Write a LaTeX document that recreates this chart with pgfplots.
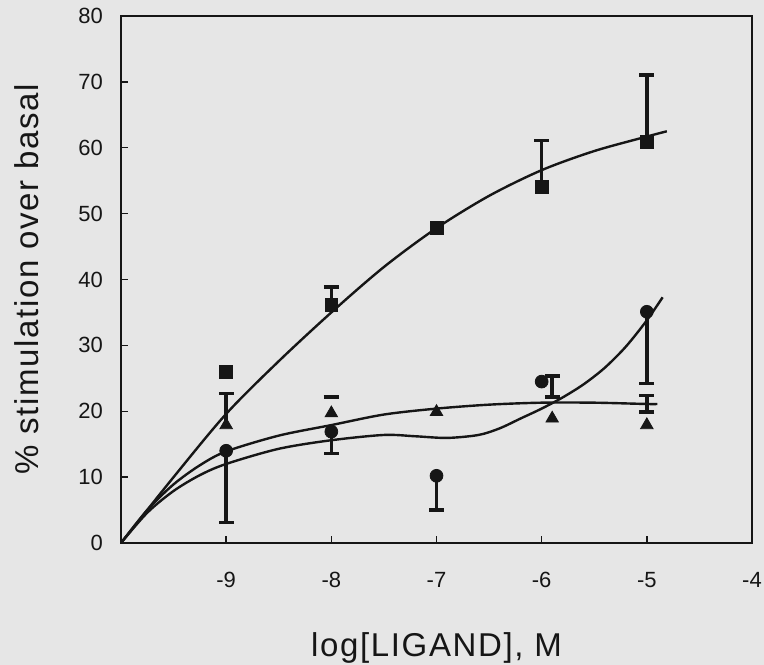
\documentclass[border=0pt]{standalone}
\usepackage{pgfplots}
\pgfplotsset{compat=1.18}
\usepackage{fontspec}
\setmainfont{Liberation Sans}
\newfontfamily\labelfont[LetterSpace=5]{Liberation Sans}
\usetikzlibrary{calc,backgrounds}
\definecolor{bgc}{HTML}{E6E6E6}
\definecolor{ink}{HTML}{161616}
\begin{document}
\begin{tikzpicture}
\begin{axis}[
  name=ax,
  scale only axis,
  width=315.5pt, height=263.5pt,
  xmin=-10, xmax=-4, ymin=0, ymax=80,
  xtick={-9,-8,-7,-6,-5,-4},
  xticklabels={{-9},{-8},{-7},{-6},{-5},{-4}},
  ytick={0,10,...,80},
  tick align=inside,
  xtick pos=bottom, ytick pos=left,
  major tick length=3.5pt,
  tick style={line width=0.7pt, draw=ink},
  axis line style={line width=1pt, draw=ink},
  /pgf/number format/assume math mode=true,
  tick label style={font=\fontsize{11}{13}\selectfont, text=ink},
  yticklabel style={xshift=-5.5pt},
  xticklabel style={yshift=-11pt},
  xlabel={log[LIGAND], M},
  ylabel={\% stimulation over basal},
  label style={font=\labelfont\fontsize{16.5}{19}\selectfont, text=ink},
  xlabel style={at={(axis description cs:0.5,0)}, anchor=base, yshift=-57pt},
  ylabel style={at={(axis description cs:-0.1315,0.5)}, anchor=base},
  clip=false,
  every axis plot/.append style={ink},
  error bars/error bar style={line width=1.7pt, draw=ink, solid},
  error bars/error mark options={rotate=90, mark size=3.7pt, line width=1.9pt, draw=ink, solid},
]
% fitted curves
\addplot[smooth, line width=1.2pt, no markers] coordinates {
 (-10,0) (-9.5,10.0) (-9,19.6) (-8.5,27.6) (-8,35.0) (-7.5,41.9) (-7,47.8)
 (-6.5,52.7) (-6,56.6) (-5.5,59.5) (-5,61.7) (-4.81,62.5)};
\addplot[smooth, line width=1.2pt, no markers] coordinates {
 (-10,0) (-9.75,5.0) (-9.5,8.9) (-9.25,11.8) (-9,13.9) (-8.5,16.3) (-8,17.9)
 (-7.5,19.5) (-7,20.4) (-6.5,21.0) (-6,21.3) (-5.5,21.3) (-5,21.1) (-4.9,21.1)};
\addplot[smooth, line width=1.2pt, no markers] coordinates {
 (-10,0) (-9.75,4.6) (-9.5,7.9) (-9.25,10.3) (-9,12.0) (-8.5,14.3) (-8,15.6)
 (-7.5,16.4) (-7.2,16.2) (-6.9,15.95) (-6.6,16.4) (-6.4,17.4) (-6.2,18.9)
 (-6,20.4) (-5.8,22.1) (-5.6,24.1) (-5.4,26.6) (-5.2,29.8) (-5,33.8) (-4.85,37.3)};
% squares
\addplot[only marks, mark=square*, mark size=3.2pt, fill=ink,
  error bars/.cd, y dir=plus, y explicit] coordinates {
 (-8,36.1) +- (0,2.8) (-6,54.1) +- (0,7.0) (-5,60.9) +- (0,10.1)};
\addplot[only marks, mark=square*, mark size=3.2pt, fill=ink] coordinates {
 (-9,26.0) (-7,47.8)};
% triangles
\addplot[only marks, mark=triangle*, mark size=3.6pt, fill=ink,
  error bars/.cd, y dir=plus, y explicit] coordinates {
 (-9,17.9) +- (0,4.8)};
\addplot[only marks, mark=triangle*, mark size=3.6pt, fill=ink] coordinates {
 (-8,19.7) (-7,19.9) (-5.9,18.9) (-5,17.9)};
% error bars drawn apart from their triangles
\addplot[draw=none, mark=none,
  error bars/.cd, y dir=both, y explicit] coordinates {
 (-8,22.2) +- (0,0) (-5.9,23.75) +- (0,1.55) (-5,21.15) +- (0,1.25)};
% circles
\addplot[only marks, mark=*, mark size=3.2pt, fill=ink,
  error bars/.cd, y dir=minus, y explicit] coordinates {
 (-9,14.0) +- (0,10.9) (-8,16.9) +- (0,3.3) (-7,10.2) +- (0,5.2) (-5,35.1) +- (0,10.9)};
\addplot[only marks, mark=*, mark size=3.2pt, fill=ink] coordinates {
 (-6,24.5)};
\end{axis}
\begin{scope}[on background layer]
\fill[bgc] ($(ax.south west)+(-60.5pt,-61pt)$) rectangle ($(ax.north east)+(6pt,8pt)$);
\end{scope}
\pgfresetboundingbox
\path ($(ax.south west)+(-60.5pt,-61pt)$) rectangle ($(ax.north east)+(6pt,8pt)$);
\end{tikzpicture}
\end{document}
